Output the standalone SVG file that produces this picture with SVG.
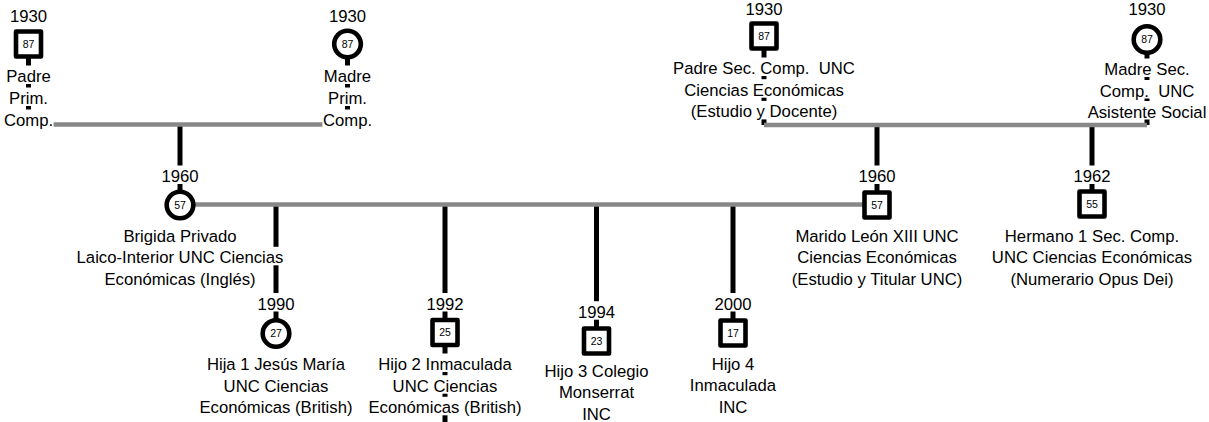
<svg xmlns="http://www.w3.org/2000/svg" width="1209" height="422" viewBox="0 0 1209 422">
  <style>
    .t { font-family: "Liberation Sans", Arial, sans-serif; font-size: 16.7px; text-anchor: middle; fill: #000; }
    .n { font-family: "Liberation Sans", Arial, sans-serif; font-size: 10.5px; text-anchor: middle; fill: #000; }
    .bg { fill: #fff; }
    .shape { fill: #fff; stroke: #000; stroke-width: 4.6; stroke-linejoin: round; }
    .kin { fill: none; stroke: #000; stroke-width: 5; }
    .couple { fill: none; stroke: #888; stroke-width: 4.5; }
  </style>

  <!-- lines: black = descent, grey = couple -->
  <g id="connectors">
    <path class="kin" d="M28.5 44V124.5"/>
    <path class="kin" d="M347.5 44V124.5"/>
    <path class="kin" d="M764 36V125"/>
    <path class="kin" d="M1147 39.5V125"/>
    <path class="kin" d="M180 124.5V205"/>
    <path class="kin" d="M877 125V205"/>
    <path class="kin" d="M1092 125V204"/>
    <path class="kin" d="M276 204.5V333.5"/>
    <path class="kin" d="M445 204.5V425"/>
    <path class="kin" d="M596.5 204.5V341"/>
    <path class="kin" d="M733 204.5V333"/>
    <path class="couple" d="M28.5 124.5H347.5"/>
    <path class="couple" d="M764 125H1147"/>
    <path class="couple" d="M180 204.5H877"/>
  </g>

  <g id="padre-prim">
    <rect class="bg" x="9.4" y="5.5" width="38.2" height="18.5"/>
    <rect class="bg" x="5.7" y="65.5" width="45.6" height="18.5"/>
    <rect class="bg" x="8.5" y="87.5" width="40" height="18.5"/>
    <rect class="bg" x="3.4" y="109.5" width="50.2" height="18.5"/>
    <text class="t" x="28.5" y="22">1930</text>
    <text class="t" x="28.5" y="82">Padre</text>
    <text class="t" x="28.5" y="104">Prim.</text>
    <text class="t" x="28.5" y="126">Comp.</text>
    <rect class="shape" x="16" y="31.5" width="25" height="25"/>
    <text class="n" x="28.5" y="47.7">87</text>
  </g>

  <g id="madre-prim">
    <rect class="bg" x="328.4" y="5.5" width="38.2" height="18.5"/>
    <rect class="bg" x="323.35" y="65.5" width="48.3" height="18.5"/>
    <rect class="bg" x="327.5" y="87.5" width="40" height="18.5"/>
    <rect class="bg" x="322.4" y="109.5" width="50.2" height="18.5"/>
    <text class="t" x="347.5" y="22">1930</text>
    <text class="t" x="347.5" y="82">Madre</text>
    <text class="t" x="347.5" y="104">Prim.</text>
    <text class="t" x="347.5" y="126">Comp.</text>
    <circle class="shape" cx="347.5" cy="44" r="13.3"/>
    <text class="n" x="347.5" y="47.7">87</text>
  </g>

  <g id="padre-sec">
    <rect class="bg" x="744.9" y="-1.5" width="38.2" height="18.5"/>
    <rect class="bg" x="672.55" y="57.5" width="182.9" height="18.5"/>
    <rect class="bg" x="683.7" y="79.2" width="160.6" height="18.5"/>
    <rect class="bg" x="690.2" y="100.9" width="147.6" height="18.5"/>
    <text class="t" x="764" y="15">1930</text>
    <text class="t" x="764" y="74" xml:space="preserve" style="white-space:pre">Padre Sec. Comp.  UNC</text>
    <text class="t" x="764" y="95.7">Ciencias Económicas</text>
    <text class="t" x="764" y="117.4">(Estudio y Docente)</text>
    <rect class="shape" x="751.5" y="23.5" width="25" height="25"/>
    <text class="n" x="764" y="39.7">87</text>
  </g>

  <g id="madre-sec">
    <rect class="bg" x="1127.9" y="-1.5" width="38.2" height="18.5"/>
    <rect class="bg" x="1103.8" y="58.5" width="86.4" height="18.5"/>
    <rect class="bg" x="1099.2" y="80" width="95.6" height="18.5"/>
    <rect class="bg" x="1087.1" y="101" width="119.8" height="18.5"/>
    <text class="t" x="1147" y="15">1930</text>
    <text class="t" x="1147" y="75">Madre Sec.</text>
    <text class="t" x="1147" y="96.5" xml:space="preserve" style="white-space:pre">Comp.  UNC</text>
    <text class="t" x="1147" y="117.5">Asistente Social</text>
    <circle class="shape" cx="1147" cy="39.5" r="13.3"/>
    <text class="n" x="1147" y="43.2">87</text>
  </g>

  <g id="brigida">
    <rect class="bg" x="160.9" y="165.5" width="38.2" height="18.5"/>
    <rect class="bg" x="122.9" y="225.2" width="114.2" height="18.5"/>
    <rect class="bg" x="76.05" y="246.8" width="207.9" height="18.5"/>
    <rect class="bg" x="103.85" y="268.5" width="152.3" height="18.5"/>
    <text class="t" x="180" y="182">1960</text>
    <text class="t" x="180" y="241.7">Brigida Privado</text>
    <text class="t" x="180" y="263.3">Laico-Interior UNC Ciencias</text>
    <text class="t" x="180" y="285">Económicas (Inglés)</text>
    <circle class="shape" cx="180" cy="205" r="13.3"/>
    <text class="n" x="180" y="208.7">57</text>
  </g>

  <g id="marido">
    <rect class="bg" x="857.9" y="165.5" width="38.2" height="18.5"/>
    <rect class="bg" x="794.85" y="225.2" width="164.3" height="18.5"/>
    <rect class="bg" x="796.7" y="246.8" width="160.6" height="18.5"/>
    <rect class="bg" x="790.65" y="268.5" width="172.7" height="18.5"/>
    <text class="t" x="877" y="182">1960</text>
    <text class="t" x="877" y="241.7">Marido León XIII UNC</text>
    <text class="t" x="877" y="263.3">Ciencias Económicas</text>
    <text class="t" x="877" y="285">(Estudio y Titular UNC)</text>
    <rect class="shape" x="864.5" y="192.5" width="25" height="25"/>
    <text class="n" x="877" y="208.7">57</text>
  </g>

  <g id="hermano-1">
    <rect class="bg" x="1072.9" y="165.5" width="38.2" height="18.5"/>
    <rect class="bg" x="1004.25" y="225.2" width="175.5" height="18.5"/>
    <rect class="bg" x="991.3" y="246.8" width="201.4" height="18.5"/>
    <rect class="bg" x="1009.85" y="268.5" width="164.3" height="18.5"/>
    <text class="t" x="1092" y="182">1962</text>
    <text class="t" x="1092" y="241.7">Hermano 1 Sec. Comp.</text>
    <text class="t" x="1092" y="263.3">UNC Ciencias Económicas</text>
    <text class="t" x="1092" y="285">(Numerario Opus Dei)</text>
    <rect class="shape" x="1079.5" y="191.5" width="25" height="25"/>
    <text class="n" x="1092" y="207.7">55</text>
  </g>

  <g id="hija-1">
    <rect class="bg" x="256.9" y="293" width="38.2" height="18.5"/>
    <rect class="bg" x="206.35" y="353.5" width="139.3" height="18.5"/>
    <rect class="bg" x="223.1" y="375.2" width="105.8" height="18.5"/>
    <rect class="bg" x="198.95" y="396.8" width="154.1" height="18.5"/>
    <text class="t" x="276" y="309.5">1990</text>
    <text class="t" x="276" y="370">Hija 1 Jesús María</text>
    <text class="t" x="276" y="391.7">UNC Ciencias</text>
    <text class="t" x="276" y="413.3">Económicas (British)</text>
    <circle class="shape" cx="276" cy="333.5" r="13.3"/>
    <text class="n" x="276" y="337.2">27</text>
  </g>

  <g id="hijo-2">
    <rect class="bg" x="425.9" y="293" width="38.2" height="18.5"/>
    <rect class="bg" x="377.65" y="353.5" width="134.7" height="18.5"/>
    <rect class="bg" x="392.1" y="375.2" width="105.8" height="18.5"/>
    <rect class="bg" x="367.95" y="396.8" width="154.1" height="18.5"/>
    <text class="t" x="445" y="309.5">1992</text>
    <text class="t" x="445" y="370">Hijo 2 Inmaculada</text>
    <text class="t" x="445" y="391.7">UNC Ciencias</text>
    <text class="t" x="445" y="413.3">Económicas (British)</text>
    <rect class="shape" x="432.5" y="320" width="25" height="25"/>
    <text class="n" x="445" y="336.2">25</text>
  </g>

  <g id="hijo-3">
    <rect class="bg" x="577.4" y="301.2" width="38.2" height="18.5"/>
    <rect class="bg" x="544.05" y="360.2" width="104.9" height="18.5"/>
    <rect class="bg" x="558.4" y="381.9" width="76.2" height="18.5"/>
    <rect class="bg" x="581.6" y="403.5" width="29.8" height="18.5"/>
    <text class="t" x="596.5" y="317.7">1994</text>
    <text class="t" x="596.5" y="376.7">Hijo 3 Colegio</text>
    <text class="t" x="596.5" y="398.4">Monserrat</text>
    <text class="t" x="596.5" y="420">INC</text>
    <rect class="shape" x="584" y="328.5" width="25" height="25"/>
    <text class="n" x="596.5" y="344.7">23</text>
  </g>

  <g id="hijo-4">
    <rect class="bg" x="713.9" y="293" width="38.2" height="18.5"/>
    <rect class="bg" x="711.15" y="353" width="43.7" height="18.5"/>
    <rect class="bg" x="689.35" y="374.5" width="87.3" height="18.5"/>
    <rect class="bg" x="718.1" y="396" width="29.8" height="18.5"/>
    <text class="t" x="733" y="309.5">2000</text>
    <text class="t" x="733" y="369.5">Hijo 4</text>
    <text class="t" x="733" y="391">Inmaculada</text>
    <text class="t" x="733" y="412.5">INC</text>
    <rect class="shape" x="720.5" y="320.5" width="25" height="25"/>
    <text class="n" x="733" y="336.7">17</text>
  </g>
</svg>
